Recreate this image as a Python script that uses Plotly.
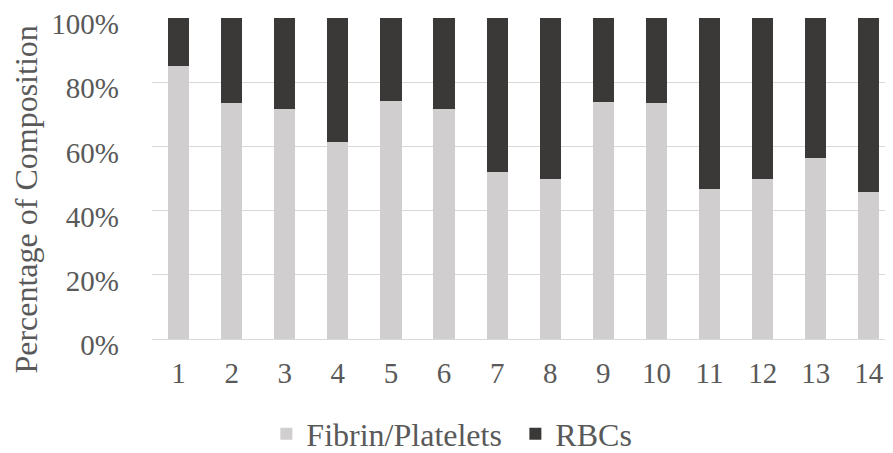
import plotly.graph_objects as go

samples = [str(i) for i in range(1, 15)]
fibrin_platelets = [0.851, 0.736, 0.718, 0.614, 0.743, 0.718, 0.519, 0.499, 0.737, 0.736, 0.467, 0.498, 0.564, 0.457]
rbcs = [1 - v for v in fibrin_platelets]
y_ticks = [0, 0.2, 0.4, 0.6, 0.8, 1.0]
y_title = "Percentage of Composition"

FONT = "Liberation Serif"
TXT = "#595959"

fig = go.Figure()
fig.add_trace(go.Bar(x=samples, y=fibrin_platelets, name="Fibrin/Platelets",
                     marker=dict(color="#d0cece", line=dict(width=0)), width=0.4,
                     legendwidth=204))
fig.add_trace(go.Bar(x=samples, y=rbcs, name="RBCs",
                     marker=dict(color="#3b3838", line=dict(width=0)), width=0.4))

fig.update_layout(
    barmode="stack",
    width=893, height=453,
    margin=dict(l=143.5, r=0, t=10.3, b=122.3, autoexpand=False),
    paper_bgcolor="white", plot_bgcolor="white",
    font=dict(family=FONT, color=TXT, size=29),
    showlegend=True,
    legend=dict(orientation="h", x=0.1527, xanchor="left", y=-0.2956, yanchor="middle",
                font=dict(size=32, family=FONT, color=TXT), traceorder="normal",
                bgcolor="rgba(0,0,0,0)"),
    xaxis=dict(type="category", range=[-0.5, 13.606], showgrid=False, showline=False,
               ticks="", tickfont=dict(size=29, family=FONT, color=TXT),
               ticklabelstandoff=14),
    yaxis=dict(range=[0, 1], tickvals=y_ticks, tickformat=".0%", showgrid=True,
               gridcolor="#d9d9d9", gridwidth=1.3, zeroline=True, zerolinecolor="#d9d9d9",
               zerolinewidth=1.3, showline=False, ticks="", ticklabeloverflow="allow",
               ticklabelshift=6,
               tickfont=dict(size=29, family=FONT, color=TXT), ticklabelstandoff=32),
    annotations=[dict(text=y_title, textangle=-90, xref="paper", yref="paper",
                      x=-0.1688, y=0.4329, xanchor="center", yanchor="middle",
                      showarrow=False, font=dict(size=32, family=FONT, color=TXT))],
)

fig.write_html("out.html")
